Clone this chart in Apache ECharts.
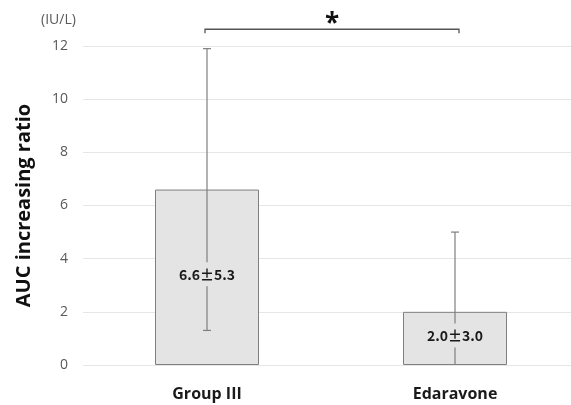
<!DOCTYPE html>
<html><head><meta charset="utf-8">
<script src="https://cdn.jsdelivr.net/npm/echarts@6/dist/echarts.min.js"></script>
<style>html,body{margin:0;padding:0;background:#fff}#c{width:571px;height:405px}</style>
</head><body><div id="c"></div>
<script>
var categories = ['Group III', 'Edaravone'];
var means = [6.6, 2.0];
var sds = [5.3, 3.0];
var barLabels = ['6.6\u00b15.3', '2.0\u00b13.0'];
var yTicks = [0, 2, 4, 6, 8, 10, 12];
var sigLevel = 12.63;
var sigText = '*';
var unitText = '(IU/L)';
var yTitle = 'AUC increasing ratio';

var FONT = '"Open Sans", "Noto Sans", sans-serif';
var chart = echarts.init(document.getElementById('c'));
var errData = means.map(function (m, i) { return [i, m, Math.max(0, m - sds[i]), m + sds[i], m - sds[i] >= 0 ? 1 : 0]; });

chart.setOption({
  animation: false,
  grid: { left: 83, right: -8, top: 46, bottom: 40, outerBoundsMode: 'none' },
  xAxis: {
    type: 'category', data: categories,
    axisLine: { show: false }, axisTick: { show: false },
    axisLabel: { fontFamily: FONT, fontWeight: 'bold', fontSize: 16, color: '#1a1a1a', margin: 21 }
  },
  yAxis: {
    type: 'value', min: yTicks[0], max: yTicks[yTicks.length - 1], interval: 2,
    axisLine: { show: false }, axisTick: { show: false },
    axisLabel: { fontFamily: FONT, fontSize: 14, color: '#595959', margin: 15 },
    splitLine: { lineStyle: { color: '#e6e6e6', width: 1 } },
    name: yTitle, nameLocation: 'middle', nameGap: 49, nameRotate: 90,
    nameTextStyle: { fontFamily: FONT, fontWeight: 'bold', fontSize: 20, color: '#111' }
  },
  graphic: [{
    type: 'text', left: 41, top: 13,
    style: { text: unitText, font: '14px ' + FONT, fill: '#595959' }
  }],
  series: [
    {
      type: 'bar', data: means, barWidth: 104, z: 2,
      itemStyle: { color: '#e4e4e4', borderColor: '#7f7f7f', borderWidth: 1 }
    },
    {
      type: 'custom', data: errData, z: 3, clip: false,
      renderItem: function (params, api) {
        var x = api.value(0);
        var lo = api.coord([x, api.value(2)]);
        var hi = api.coord([x, api.value(3)]);
        var cx = lo[0];
        var s = { stroke: '#7f7f7f', lineWidth: 1.2 };
        var ch = [
          { type: 'line', shape: { x1: cx, y1: lo[1], x2: cx, y2: hi[1] }, style: s },
          { type: 'line', shape: { x1: cx - 4, y1: hi[1], x2: cx + 4, y2: hi[1] }, style: s }
        ];
        if (api.value(4)) ch.push({ type: 'line', shape: { x1: cx - 4, y1: lo[1], x2: cx + 4, y2: lo[1] }, style: s });
        return { type: 'group', children: ch };
      }
    },
    {
      type: 'custom', data: means.map(function (m, i) { return [i, m / 2, barLabels[i]]; }), z: 4,
      renderItem: function (params, api) {
        var p = api.coord([api.value(0), api.value(1)]);
        return {
          type: 'text', x: p[0], y: p[1] - 3,
          style: {
            text: barLabels[params.dataIndex], font: 'bold 14px "Noto Sans CJK JP", ' + FONT, fill: '#1a1a1a',
            align: 'center', verticalAlign: 'middle',
            backgroundColor: '#e4e4e4', padding: [5, 2, 5, 2]
          }
        };
      }
    },
    {
      type: 'custom', data: [[0, 1, sigLevel]], z: 5, clip: false,
      renderItem: function (params, api) {
        var a = api.coord([api.value(0), api.value(2)]);
        var b = api.coord([api.value(1), api.value(2)]);
        var x1 = a[0] - 2, x2 = b[0] + 4, y = a[1];
        var s = { stroke: '#555', lineWidth: 1.3, fill: null };
        return {
          type: 'group', children: [
            { type: 'polyline', shape: { points: [[x1, y + 4], [x1, y], [x2, y], [x2, y + 4]] }, style: s },
            { type: 'text', x: (x1 + x2) / 2, y: y - 5,
              style: { text: sigText, font: 'bold 26px ' + FONT, fill: '#111', align: 'center', verticalAlign: 'middle' } }
          ]
        };
      }
    }
  ]
});
</script></body></html>
